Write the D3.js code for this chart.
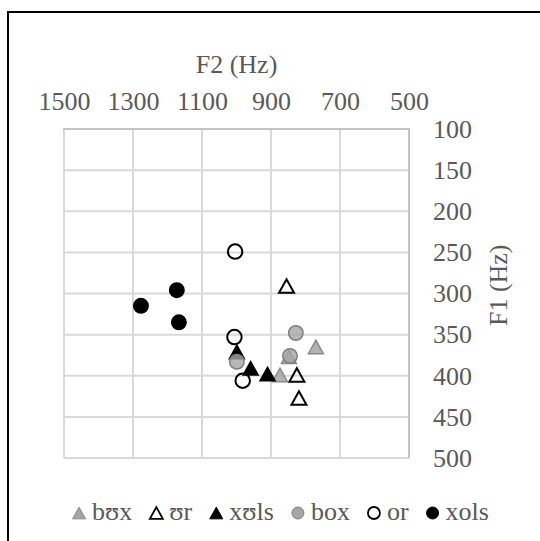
<!DOCTYPE html>
<html>
<head>
<meta charset="utf-8">
<script src="https://cdn.jsdelivr.net/npm/d3@7"></script>
<style>
  body { margin: 0; background: #fff; }
  svg { display: block; }
  svg text { font-family: 'Liberation Serif', 'Times New Roman', 'DejaVu Serif', serif; }
</style>
</head>
<body>
<svg id="chart" width="540" height="541"></svg>
<script>
// tick values
const f2Ticks = [1500, 1300, 1100, 900, 700, 500];
const f1Ticks = [100, 150, 200, 250, 300, 350, 400, 450, 500];

// series, in legend order: [F2, F1]
const seriesNames = ['bʊx', 'ʊr', 'xʊls', 'box', 'or', 'xols'];
const buxPts  = [[848, 377], [874, 399], [770, 365]];
const urPts   = [[855, 291], [825, 399], [819, 427]];
const xulsPts = [[999, 371], [959, 391], [910, 398]];
const boxPts  = [[999, 383], [828, 348], [845, 376]];
const orPts   = [[1004, 249], [1006, 353], [982, 406]];
const xolsPts = [[1173, 296], [1277, 315], [1167, 335]];

const seriesPts = [buxPts, urPts, xulsPts, boxPts, orPts, xolsPts];

const styles = [
  { shape: 'tri', fill: '#a5a5a5', fillOp: 0.85, stroke: '#8a8a8a' },
  { shape: 'tri', fill: 'none', fillOp: 1, stroke: '#000' },
  { shape: 'tri', fill: '#000', fillOp: 1, stroke: '#000' },
  { shape: 'circ', fill: '#a5a5a5', fillOp: 0.8, stroke: '#7f7f7f' },
  { shape: 'circ', fill: 'none', fillOp: 1, stroke: '#000' },
  { shape: 'circ', fill: '#000', fillOp: 1, stroke: '#000' }
];

const textColor = '#595959';
const fs = 26;

const svg = d3.select('#chart');

// outer frame (only top and left edges fall inside the picture)
svg.append('rect')
  .attr('x', 8).attr('y', 12)
  .attr('width', 600).attr('height', 600)
  .attr('fill', 'none')
  .attr('stroke', '#000')
  .attr('stroke-width', 2);

const x = d3.scaleLinear().domain([1500, 500]).range([64, 409]);
const y = d3.scaleLinear().domain([100, 500]).range([129, 458]);

// gridlines
const grid = svg.append('g').attr('stroke', '#d9d9d9').attr('stroke-width', 2);
grid.selectAll('line.v')
  .data(f2Ticks)
  .join('line')
    .attr('class', 'v')
    .attr('x1', d => x(d)).attr('x2', d => x(d))
    .attr('y1', y(100)).attr('y2', y(500));
grid.selectAll('line.h')
  .data(f1Ticks)
  .join('line')
    .attr('class', 'h')
    .attr('x1', x(1500)).attr('x2', x(500))
    .attr('y1', d => y(d)).attr('y2', d => y(d));

// axis lines
svg.append('line')
  .attr('x1', x(1500) - 1).attr('x2', x(500) + 1)
  .attr('y1', y(100)).attr('y2', y(100))
  .attr('stroke', '#c4c4c4').attr('stroke-width', 2);
svg.append('line')
  .attr('x1', x(500)).attr('x2', x(500))
  .attr('y1', y(100)).attr('y2', y(500))
  .attr('stroke', '#c4c4c4').attr('stroke-width', 2);

// top axis (F2)
const topAxis = svg.append('g')
  .attr('transform', `translate(0,${y(100)})`)
  .call(d3.axisTop(x).tickValues(f2Ticks).tickSize(0).tickPadding(19).tickFormat(d3.format('d')));
topAxis.attr('font-family', null);
topAxis.select('.domain').remove();
topAxis.selectAll('text')
  .attr('font-size', fs).attr('fill', textColor);

// right axis (F1)
const rightAxis = svg.append('g')
  .attr('transform', `translate(${x(500)},0)`)
  .call(d3.axisRight(y).tickValues(f1Ticks).tickSize(0).tickPadding(24).tickFormat(d3.format('d')));
rightAxis.attr('font-family', null);
rightAxis.select('.domain').remove();
rightAxis.selectAll('text')
  .attr('font-size', fs).attr('fill', textColor);

// axis titles
svg.append('text')
  .attr('x', (x(1500) + x(500)) / 2).attr('y', 73)
  .attr('text-anchor', 'middle')
  .attr('font-size', fs).attr('fill', textColor)
  .text('F2 (Hz)');
svg.append('text')
  .attr('transform', `translate(507,${y(290)}) rotate(-90)`)
  .attr('text-anchor', 'middle')
  .attr('font-size', fs).attr('fill', textColor)
  .text('F1 (Hz)');

const triPath = (w) => {
  const h = w * 0.9;
  return `M0,${-h / 2}L${w / 2},${h / 2}L${-w / 2},${h / 2}Z`;
};

function drawMarker(g, st, size) {
  if (st.shape === 'tri') {
    return g.append('path').attr('d', triPath(size));
  }
  return g.append('circle').attr('r', size / 2);
}

// markers
seriesPts.forEach((pts, i) => {
  const st = styles[i];
  pts.forEach(p => {
    const g = svg.append('g').attr('transform', `translate(${x(p[0])},${y(p[1])})`);
    drawMarker(g, st, st.shape === 'tri' ? 15 : 14.5)
      .attr('fill', st.fill)
      .attr('fill-opacity', st.fillOp)
      .attr('stroke', st.stroke)
      .attr('stroke-width', st.fill === 'none' ? 2 : 1.5);
  });
});

// legend
const legend = svg.append('g');
let cx = 0;
seriesNames.forEach((name, i) => {
  const st = styles[i];
  const g = legend.append('g');
  drawMarker(g, st, st.shape === 'tri' ? 13 : 12)
    .attr('transform', 'translate(0,-7)')
    .attr('fill', st.fill)
    .attr('stroke', st.stroke)
    .attr('stroke-width', st.fill === 'none' ? 1.8 : 1);
  const t = g.append('text')
    .attr('x', 13).attr('y', 0)
    .attr('font-size', fs).attr('fill', textColor)
    .text(name);
  const w = t.node().getComputedTextLength();
  g.attr('transform', `translate(${cx},0)`);
  cx += 13 + w + 24;
});
const legendW = cx - 24 + 6;
legend.attr('transform', `translate(${281 - legendW / 2 + 6},520)`);
</script>
</body>
</html>
